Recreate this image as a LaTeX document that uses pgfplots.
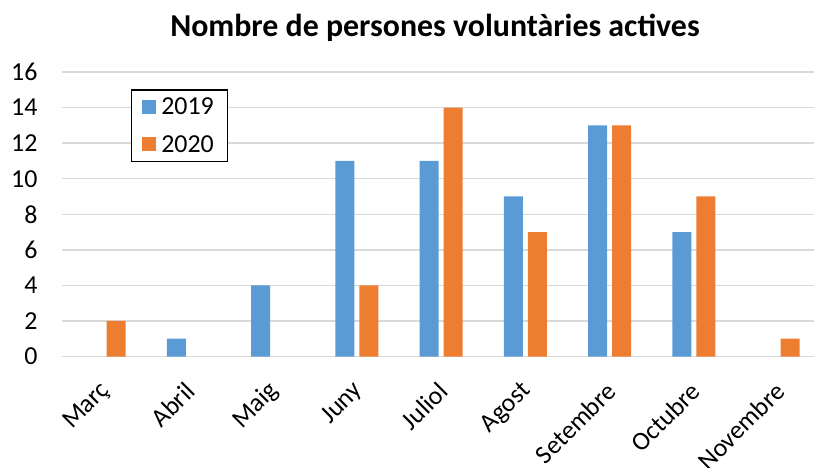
\documentclass[border=0pt]{standalone}
\usepackage{pgfplots}
\pgfplotsset{compat=1.18}
\usepackage{fontspec}
\setmainfont{Carlito}
\definecolor{cblue}{HTML}{5B9BD5}
\definecolor{corange}{HTML}{ED7D31}
\definecolor{cgrid}{HTML}{D9D9D9}
\pgfplotsset{sqlegend/.style={legend image code/.code={\path[##1] (0bp,-7bp) rectangle (14bp,7bp); \path (16bp,0bp);}}}
\begin{document}
\begin{tikzpicture}[x=1bp,y=1bp]
\begin{axis}[
 at={(62bp,111.5bp)}, anchor=south west,
 scale only axis, width=752.3bp, height=284.5bp,
 xmin=-0.5, xmax=8.43, ymin=0, ymax=16,
 ytick={0,2,...,16},
 xtick={0,...,8},
 xticklabels={Març,Abril,Maig,Juny,Juliol,Agost,Setembre,Octubre,Novembre},
 ybar=5bp, bar width=19bp,
 axis line style={draw=none},
 major tick length=0pt,
 ymajorgrids, grid style={cgrid, line width=1.4bp},
 tick label style={font=\fontsize{26}{30}\selectfont},
 /pgf/number format/assume math mode=true,
 yticklabel style={xshift=-21bp},
 xticklabel style={rotate=45, anchor=east, xshift=-18bp, yshift=-23bp, inner sep=2bp},
 legend style={at={(0.0913,0.939)}, anchor=north west, draw=black, line width=1.2bp,
   font=\fontsize{26}{30}\selectfont, inner xsep=11bp, inner ysep=5bp, row sep=13bp,
   nodes={inner sep=3bp}},
 legend cell align=left,
 clip=false,
]
% 2019 (zero values at Març and Novembre are not drawn)
\addplot[fill=cblue, draw=none, sqlegend] coordinates {(1,1) (2,4) (3,11) (4,11) (5,9) (6,13) (7,7)};
% 2020 (zero values at Abril and Maig are not drawn)
\addplot[fill=corange, draw=none, sqlegend] coordinates {(0,2) (3,4) (4,14) (5,7) (6,13) (7,9) (8,1)};
\legend{2019,2020}
\end{axis}
\node[font=\bfseries\fontsize{32}{36}\selectfont] at (435bp,440bp) {Nombre de persones voluntàries actives};
\pgfresetboundingbox
\useasboundingbox (0,0) rectangle (815bp,468bp);
\end{tikzpicture}
\end{document}
